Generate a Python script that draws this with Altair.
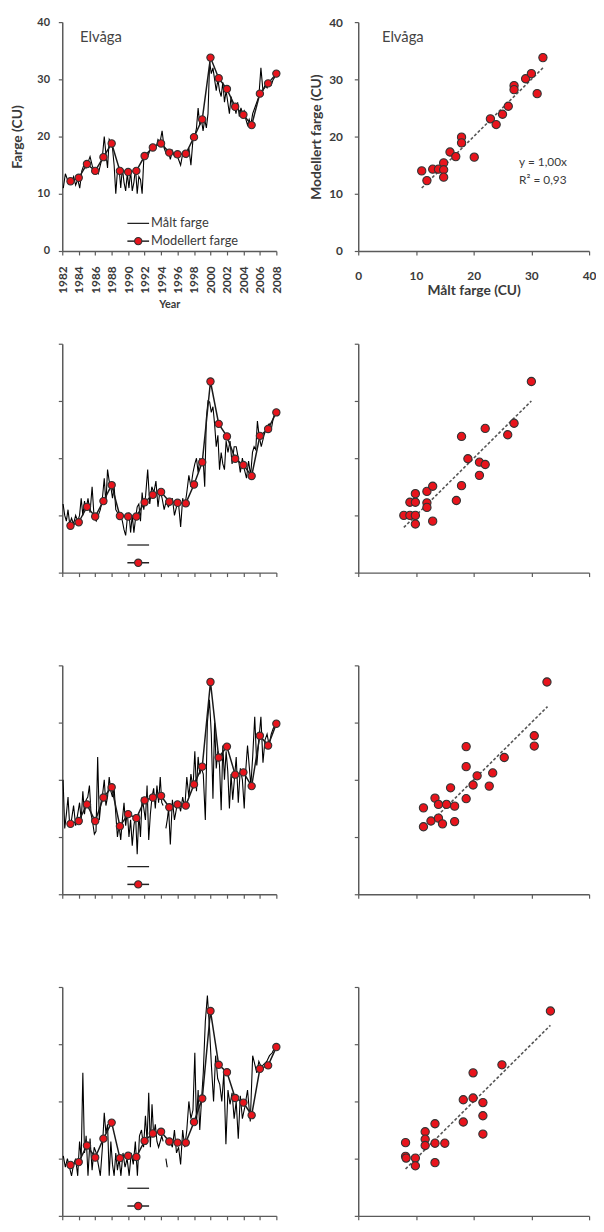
import altair as alt
import pandas as pd

# ---------------- data ----------------
BLOCK_YEARS = list(range(1982, 2008))      # measurement blocks (samples within each year)
MODEL_YEARS = list(range(1983, 2009))      # annual modelled values
AXIS_YEARS = list(range(1982, 2009, 2))

# Row 1 (Elvåga) measured colour, samples per year
meas_1 = [
    [11, 13.5, 12.5, 12], [12, 13, 11.5, 12.5], [11, 14, 15, 14.5], [15.5, 16.5, 15, 14],
    [14, 13.5, 15, 16.5], [20, 17, 14.5, 19.5, 19], [18, 15, 10, 14, 14.5], [11, 14.5, 12, 10.5, 13.5],
    [11, 14, 10.5, 12, 14.5], [10, 13, 12.5, 10, 16], [17, 16.5, 17.5, 18], [18.5, 18, 19.5, 19],
    [21, 18, 17, 17.5], [16, 17.5, 16.5, 17], [16, 15, 17, 17.5], [16.5, 18, 15, 19.5],
    [20, 21.5, 25, 22, 23], [21, 23, 21.5, 24, 33], [31, 32, 30, 28, 30], [28, 27, 29.5, 26, 28],
    [26, 24, 27, 25, 25.5], [24, 26, 23.5, 25, 24], [24.5, 23, 22, 23, 22], [24, 25, 26, 27],
    [32, 28, 29, 28.5], [29.5, 29, 30, 30.5],
]
model_1 = [12.2, 12.8, 15.2, 14.0, 16.4, 18.8, 14.0, 13.8, 14.0, 16.6, 18.1, 18.8, 17.2,
           16.9, 17.0, 19.9, 23.0, 33.8, 30.2, 28.3, 25.2, 23.8, 22.0, 27.5, 29.3, 31.0]

meas_2 = [
    [12, 10, 9, 11, 8.5], [9.5, 8.5, 10, 9], [10, 13, 10, 12.5, 11], [13, 10.5, 15, 9.5],
    [9, 10, 11, 13], [16.5, 12, 18, 16, 15], [13, 15, 11, 10.5, 9.5], [10, 9, 7.5, 6.5, 9.5],
    [10.5, 7, 10, 7, 9.5], [11.5, 12, 9, 14, 11], [13.5, 18, 12, 15], [14, 16, 11.5, 14.5],
    [13, 11, 12.5, 11.5], [12, 13, 10, 11.5], [12, 8, 13, 11.5], [14, 17, 15, 17.5],
    [19, 20, 17.5, 20, 19], [20, 15, 27, 30, 29.8], [28, 29, 26, 22, 24], [18, 21, 19, 18, 23],
    [21, 23, 19, 22], [22, 20, 17.5, 20], [18, 16.5, 19.5, 17], [21, 22, 21.5, 26.5, 24],
    [22, 24, 25.5], [26, 25, 27, 28],
]
model_2 = [8.2, 8.8, 11.5, 9.8, 12.5, 15.3, 9.9, 9.8, 9.8, 12.3, 13.6, 14.1, 12.4,
           12.2, 12.1, 15.4, 19.3, 33.4, 26.0, 23.8, 19.9, 18.8, 16.9, 23.9, 25.1, 28.0]

meas_3 = [
    [20, 11.5, 14, 17, 12], [13, 15.5, 12, 14], [16, 13, 18, 14, 16.5], [17, 19, 14, 12.5, 10.5],
    [11, 24, 13, 16, 17.5], [20, 15.5, 17, 20.5, 18], [17, 18.5, 14, 10, 12], [9.5, 13, 16, 12, 14.5],
    [10, 13, 8.5, 12, 14], [7, 14, 10, 17, 15], [13, 19, 9.5, 14, 17], [18.5, 15, 19, 16, 20.5],
    [16, 15.5, None, 11.5, 13, 15], [8.7, 16.5, 13, 15], [16, 14.5, 17, 15], [20.5, 17, 21, 18.5],
    [25, 18, 24, 21, 22], [21, 13, 30, 34], [28, 16.7, 30, 22, 25], [22.5, 14.7, 26, 20, 25],
    [21.5, 15, 21, 16.5, 20], [24, 16, 22, 20], [15, 22, 26, 22.5, 19], [24, 31, 22.5, 27],
    [31, 23, 27, 28], [26, 28, 29, 29.5],
]
model_3 = [12.3, 12.8, 15.7, 12.8, 16.9, 18.7, 11.9, 14.0, 13.3, 16.4, 16.9, 17.2, 15.2,
           15.7, 15.5, 19.2, 22.3, 37.1, 23.9, 25.8, 20.9, 21.3, 18.9, 27.7, 26.0, 29.8]

meas_4 = [
    [10.5, 8.5, 10, 8.5], [7, 9, 10, 7], [13, 10, 25, 11, 14], [7, 13.5, 8, 12],
    [11, 9, 7, 12], [18, 14.5, 16, 7, 13], [9, 7, 11, 8, 10], [7, 11, 8.5, 10],
    [7, 11, 9, 13], [7, 14, 15, 12], [17.5, 13, 21.5, 12, 19.5], [14, 16, 13, 12, 13],
    [14, 13, None, 10, 8.5, None], [13, 12, 15, 11], [12, 9, 15, 12], [15, 20, 17, 18.5],
    [28.5, 16, 22, 15, 20], [25, 34, 38.5, 33], [26, 20, 28, 24], [23, 20, 25, 12.5],
    [22, 19.5, 21.5, 17], [20, 13.5, 21, 17], [19, 22, 16.5], [28, 26.5, 25, 27],
    [26, 26.5, 27], [28, 28.5, 29.5],
]
model_4 = [8.9, 9.4, 12.3, 10.2, 13.5, 16.3, 10.1, 10.5, 10.3, 13.1, 14.4, 14.7, 13.0,
           12.8, 12.8, 16.4, 20.5, 35.8, 26.4, 25.1, 20.6, 19.8, 17.6, 25.7, 26.3, 29.5]

# scatter: measured (x) vs modelled (y)
sx_1 = [11.0, 11.9, 12.9, 13.9, 14.8, 14.8, 14.8, 15.9, 16.9, 17.9, 17.9, 20.1, 22.9, 23.9,
        25.0, 26.0, 27.0, 27.0, 29.0, 30.0, 31.0, 32.0]
sy_1 = [14.0, 12.3, 14.3, 14.3, 15.4, 14.2, 12.9, 17.3, 16.5, 19.9, 18.9, 16.4, 23.1, 22.1,
        23.9, 25.3, 28.9, 28.2, 30.1, 31.0, 27.5, 33.8]
sx_2 = [7.9, 8.95, 9.9, 9.9, 8.95, 9.9, 9.9, 11.9, 11.9, 11.9, 12.9, 12.9, 17.0, 17.9, 17.9,
        19.0, 21.0, 22.0, 21.0, 22.0, 25.9, 27.0, 30.0]
sy_2 = [10.0, 10.0, 10.0, 8.5, 12.3, 12.3, 13.8, 14.2, 12.2, 11.4, 15.1, 9.0, 12.6, 15.2, 23.8,
        19.9, 19.3, 18.9, 17.0, 25.2, 24.1, 26.1, 33.4]
sx_3 = [11.3, 11.3, 12.6, 13.3, 13.9, 13.9, 14.6, 15.3, 16.0, 16.7, 16.7, 18.7, 18.7, 18.7,
        19.9, 20.6, 22.7, 23.3, 25.3, 30.5, 30.5, 32.7]
sy_3 = [15.1, 11.8, 12.8, 16.8, 15.7, 13.3, 12.3, 15.7, 18.6, 15.4, 12.7, 25.8, 22.3, 16.7,
        19.1, 20.7, 18.9, 21.2, 23.9, 27.7, 25.9, 37.1]
sx_4 = [8.2, 8.2, 8.3, 9.9, 9.9, 11.6, 11.6, 11.6, 13.3, 13.3, 13.3, 15.0, 18.2, 18.2, 19.9,
        19.9, 21.6, 21.6, 21.6, 24.9, 33.3]
sy_4 = [12.8, 10.4, 10.1, 10.1, 8.75, 14.7, 13.4, 12.3, 16.1, 12.7, 9.3, 12.7, 20.3, 16.4, 25.0,
        20.6, 19.8, 17.5, 14.3, 26.4, 35.8]

# fitted line through origin: slope and x-range of each panel
reg_slope = [1.00, 1.00, 1.00, 1.00]
reg_x = [[11.0, 32.0], [7.9, 30.0], [12.5, 32.8], [8.2, 33.3]]

SITE = "Elvåga"
EQ_LINES = ["y = 1,00x", "R² = 0,93"]
LEG_LABELS = ["Målt farge", "Modellert farge"]

# ---------------- style ----------------
FONT = "Lato"
AX = "#5a5a5a"
TXT = "#3a3a3a"
RED = "#e8141c"
LW, LH = 217, 232
RW, RH = 234, 232


def meas_df(blocks):
    rows, seg = [], 0
    for yr, vals in zip(BLOCK_YEARS, blocks):
        n = len(vals)
        for k, v in enumerate(vals):
            if v is None:
                seg += 1
                continue
            rows.append({"t": yr + (k + 0.5) / n, "v": v, "seg": seg})
    return pd.DataFrame(rows)


def axis(show, keep=True, **kw):
    base = dict(
        grid=False, domainColor=AX, domainWidth=1.5, tickColor=AX, tickWidth=1.2, tickSize=4,
        labelFont=FONT, labelFontSize=11, labelFontWeight="bold", labelColor=TXT,
        titleFont=FONT, titleFontWeight="bold", titleColor=TXT, labelFlush=False,
        labelOverlap=False,
    )
    base.update(kw)
    if not keep:
        base["labels"] = False
        base["title"] = None
    elif not show:
        base.update(labelOpacity=0, titleOpacity=0)
    return alt.Axis(**base)


def text_layer(txt, x, y, size, color, align="left"):
    return alt.Chart(pd.DataFrame({"s": [txt]})).mark_text(
        align=align, baseline="middle", font=FONT, fontSize=size, color=color
    ).encode(x=alt.value(x), y=alt.value(y), text="s:N")


def left_panel(blocks, model, show, keep_x):
    xs = alt.Scale(domain=[1982, 2008], nice=False, zero=False)
    ys = alt.Scale(domain=[0, 40], nice=False)
    x_ax = axis(show, keep_x, values=AXIS_YEARS, format="d", labelAngle=270, labelPadding=11,
                labelFontSize=12, title="Year", titleFontSize=11, titlePadding=5)
    y_ax = axis(show, True, values=[0, 10, 20, 30, 40], labelPadding=9, title="Farge (CU)",
                titleFontSize=14, titlePadding=13)
    md = meas_df(blocks)
    mod = pd.DataFrame({"t": MODEL_YEARS, "v": model})
    X = alt.X("t:Q", scale=xs, axis=x_ax)
    Y = alt.Y("v:Q", scale=ys, axis=y_ax)
    meas = alt.Chart(md).mark_line(color="black", strokeWidth=1.1).encode(
        x=X, y=Y, detail="seg:N")
    mline = alt.Chart(mod).mark_line(color="#1a1a1a", strokeWidth=1.5).encode(x=X, y=Y)
    mpts = alt.Chart(mod).mark_point(filled=True, fill=RED, stroke="#333", strokeWidth=1.1,
                                     size=55, opacity=1).encode(x=X, y=Y)
    one = pd.DataFrame({"k": [0]})
    leg = [
        alt.Chart(one).mark_rule(color="#222", strokeWidth=1.3).encode(
            x=alt.value(66), x2=alt.value(88), y=alt.value(204)),
        alt.Chart(one).mark_rule(color="#222", strokeWidth=1.5).encode(
            x=alt.value(66), x2=alt.value(88), y=alt.value(222)),
        alt.Chart(one).mark_point(filled=True, fill=RED, stroke="#333", strokeWidth=1.1,
                                  size=55, opacity=1).encode(x=alt.value(77), y=alt.value(222)),
    ]
    layers = [meas, mline, mpts] + leg
    if show:
        layers.append(text_layer(LEG_LABELS[0], 90, 204, 13, TXT))
        layers.append(text_layer(LEG_LABELS[1], 90, 222, 13, TXT))
        layers.append(text_layer(SITE, 18, 15, 15, "#444"))
    return alt.layer(*layers).properties(width=LW, height=LH)


def right_panel(sx, sy, slope, xr, show, keep_x):
    sc = alt.Scale(domain=[0, 40], nice=False)
    x_ax = axis(show, keep_x, values=[0, 10, 20, 30, 40], labelPadding=16, labelFontSize=12,
                title="Målt farge (CU)", titleFontSize=14, titlePadding=2)
    y_ax = axis(show, True, values=[0, 10, 20, 30, 40], labelPadding=12, labelFontSize=12,
                title="Modellert farge (CU)", titleFontSize=14, titlePadding=5)
    X = alt.X("x:Q", scale=sc, axis=x_ax)
    Y = alt.Y("y:Q", scale=sc, axis=y_ax)
    pts = pd.DataFrame({"x": sx, "y": sy})
    reg = pd.DataFrame({"x": xr, "y": [slope * v for v in xr]})
    line = alt.Chart(reg).mark_line(color="#555", strokeWidth=1.6, strokeDash=[3, 2]).encode(
        x=X, y=Y)
    dots = alt.Chart(pts).mark_point(filled=True, fill=RED, stroke="#333", strokeWidth=1.1,
                                     size=70, opacity=1).encode(x=X, y=Y)
    layers = [line, dots]
    if show:
        layers.append(text_layer(SITE, 24, 15, 15, "#444"))
        layers.append(text_layer(EQ_LINES[0], 163, 142, 12, TXT))
        layers.append(text_layer(EQ_LINES[1], 163, 160, 12, TXT))
    return alt.layer(*layers).properties(width=RW, height=RH)


panels = [
    (meas_1, model_1, sx_1, sy_1),
    (meas_2, model_2, sx_2, sy_2),
    (meas_3, model_3, sx_3, sy_3),
    (meas_4, model_4, sx_4, sy_4),
]
rows = []
for i, (m, mo, sx, sy) in enumerate(panels):
    show = i == 0
    keep_x = i < 3
    rows.append(alt.hconcat(left_panel(m, mo, show, keep_x),
                            right_panel(sx, sy, reg_slope[i], reg_x[i], show, keep_x),
                            spacing=28))

chart = alt.vconcat(*rows, spacing=29).properties(
    padding={"left": 2, "top": 0, "right": 0, "bottom": 0}
).configure(font=FONT).configure_view(strokeWidth=0)

chart.save("out.html", embed_options={"renderer": "svg", "actions": False})
